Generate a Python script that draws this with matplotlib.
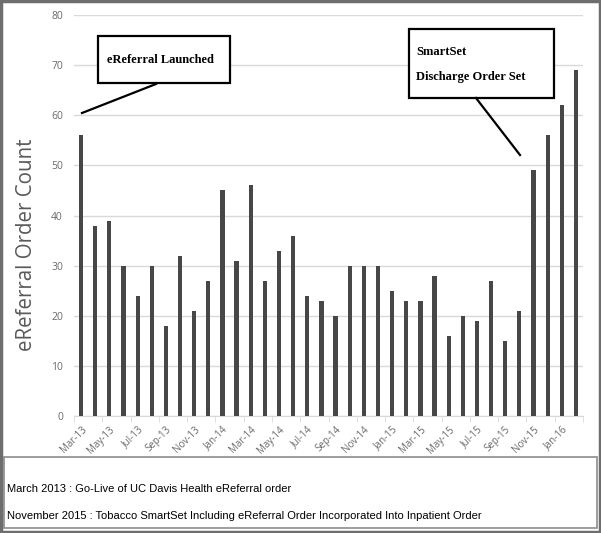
import matplotlib
matplotlib.use("Agg")
import matplotlib.pyplot as plt
from matplotlib.patches import Rectangle
from matplotlib.lines import Line2D

months = ["Mar-13","Apr-13","May-13","Jun-13","Jul-13","Aug-13","Sep-13","Oct-13","Nov-13","Dec-13",
          "Jan-14","Feb-14","Mar-14","Apr-14","May-14","Jun-14","Jul-14","Aug-14","Sep-14","Oct-14",
          "Nov-14","Dec-14","Jan-15","Feb-15","Mar-15","Apr-15","May-15","Jun-15","Jul-15","Aug-15",
          "Sep-15","Oct-15","Nov-15","Dec-15","Jan-16","Feb-16"]
counts = [56, 38, 39, 30, 24, 30, 18, 32, 21, 27,
          45, 31, 46, 27, 33, 36, 24, 23, 20, 30,
          30, 30, 25, 23, 23, 28, 16, 20, 19, 27,
          15, 21, 49, 56, 62, 69]
y_ticks = [0, 10, 20, 30, 40, 50, 60, 70, 80]
y_label = "eReferral Order Count"
callout1 = "eReferral Launched"
notes = ["March 2013 : Go-Live of UC Davis Health eReferral order",
         "November 2015 : Tobacco SmartSet Including eReferral Order Incorporated Into Inpatient Order"]

W, H = 601, 533
fig = plt.figure(figsize=(W/100, H/100), dpi=100)

def fx(px): return px / W
def fy(py): return 1 - py / H

ax = fig.add_axes([fx(74), fy(416), fx(583) - fx(74), fy(15) - fy(416)])
x = list(range(len(months)))
ax.bar(x, counts, width=0.3, color="#474747", zorder=3)
ax.set_xlim(-0.5, len(months) - 0.5)
ax.set_ylim(0, 80)
ax.set_yticks(y_ticks)
ax.yaxis.grid(True, color="#d9d9d9", linewidth=1, zorder=0)
for s in ["top", "right", "left"]:
    ax.spines[s].set_visible(False)
ax.spines["bottom"].set_color("#d9d9d9")
ax.tick_params(axis="y", length=0, labelsize=7.5, labelcolor="#6a6a6a", pad=8)
ax.set_xticks(x[::2])
ax.set_xticklabels(months[::2], rotation=45, ha="right", rotation_mode="anchor",
                   fontsize=7, color="#6a6a6a")
ax.set_xticks([i - 0.5 for i in range(0, len(months) + 1, 2)], minor=True)
ax.tick_params(axis="x", which="major", length=0, pad=6)
ax.tick_params(axis="x", which="minor", length=4, color="#d9d9d9")
for t in ax.get_yticklabels() + ax.get_xticklabels():
    t.set_family("Open Sans")
fig.text(fx(27), fy(245), y_label, rotation=90, fontsize=14.8, color="#595959",
         family="Open Sans", ha="center", va="center")

# callout boxes
serif = "Liberation Serif"
fig.add_artist(Rectangle((fx(98), fy(83)), fx(230) - fx(98), fy(36) - fy(83),
                         transform=fig.transFigure, fill=True, facecolor="white",
                         edgecolor="black", linewidth=1.6, zorder=5))
fig.text(fx(107), fy(60), callout1, fontsize=9, family=serif, weight="bold",
         va="center", ha="left", zorder=6)
fig.add_artist(Line2D([fx(156), fx(82)], [fy(84), fy(113)], transform=fig.transFigure,
                      color="black", linewidth=1.6, zorder=5))

fig.add_artist(Rectangle((fx(409), fy(98)), fx(554) - fx(409), fy(29) - fy(98),
                         transform=fig.transFigure, fill=True, facecolor="white",
                         edgecolor="black", linewidth=1.6, zorder=5))
fig.text(fx(416), fy(52), "SmartSet", fontsize=9, family=serif, weight="bold",
         va="center", ha="left", zorder=6)
fig.text(fx(416), fy(77), "Discharge Order Set", fontsize=9, family=serif, weight="bold",
         va="center", ha="left", zorder=6)
fig.add_artist(Line2D([fx(476), fx(520)], [fy(98), fy(155)], transform=fig.transFigure,
                      color="black", linewidth=1.6, zorder=5))

# notes box
fig.add_artist(Rectangle((fx(4), fy(528)), fx(597) - fx(4), fy(457) - fy(528),
                         transform=fig.transFigure, fill=False,
                         edgecolor="#8c8c8c", linewidth=1.2))
fig.text(fx(7), fy(489), notes[0], fontsize=8, family="Liberation Sans", va="center", ha="left")
fig.text(fx(7), fy(516), notes[1], fontsize=8, family="Liberation Sans", va="center", ha="left")

# outer border
fig.add_artist(Rectangle((0.0015, 0.0015), 0.997, 0.997, transform=fig.transFigure,
                         fill=False, edgecolor="#6e6e6e", linewidth=2.5))

fig.savefig("out.png", dpi=100)
